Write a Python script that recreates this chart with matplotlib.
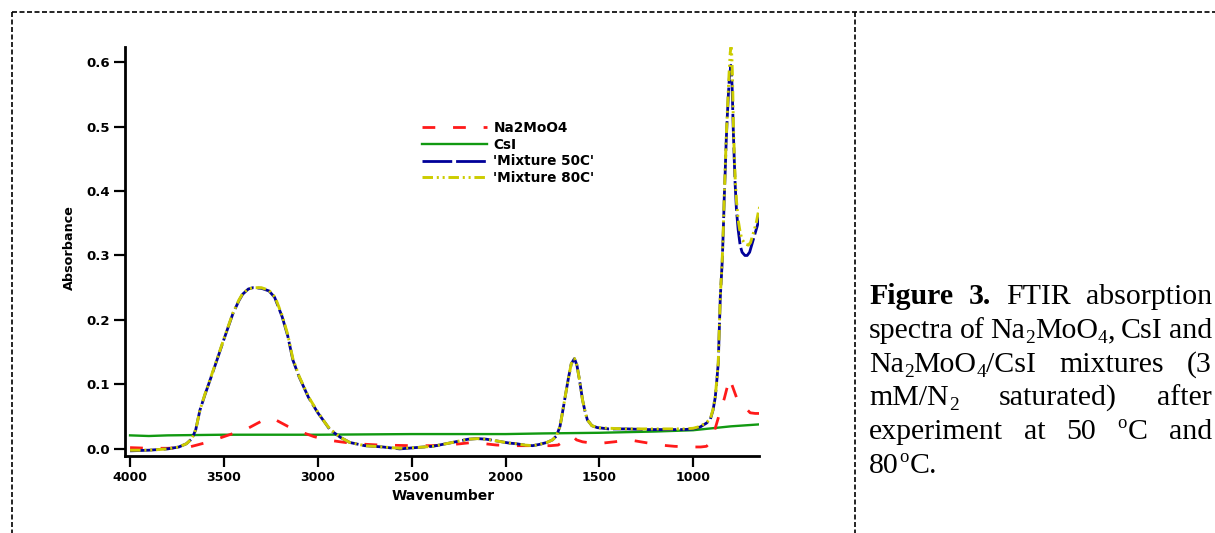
import numpy as np
import matplotlib
matplotlib.use("Agg")
from matplotlib import pyplot as plt
from matplotlib.lines import Line2D

plt.rcParams['font.family'] = 'DejaVu Sans'

# --- data (wavenumber, absorbance) ---
na_wn = [4000, 3900, 3800, 3720, 3697, 3644, 3580, 3521, 3450, 3378, 3320, 3280,
         3255, 3218, 3160, 3096, 3020, 2952, 2880, 2800, 2670, 2495, 2400, 2314,
         2240, 2176, 2110, 2048, 1950, 1873, 1800, 1760, 1720, 1690, 1660, 1640,
         1622, 1590, 1540, 1484, 1420, 1340, 1280, 1176, 1100, 1016, 960, 930,
         904, 885, 865, 850, 835, 820, 809, 795, 770, 750, 720, 697, 670, 650]
na_abs = [0.002, 0.001, 0.001, 0.002, 0.002, 0.006, 0.011, 0.017, 0.024, 0.031, 0.040, 0.046,
          0.048, 0.044, 0.035, 0.027, 0.019, 0.014, 0.011, 0.008, 0.006, 0.005, 0.005, 0.006,
          0.008, 0.010, 0.008, 0.006, 0.005, 0.005, 0.005, 0.005, 0.006, 0.012, 0.018, 0.019,
          0.014, 0.011, 0.009, 0.009, 0.011, 0.014, 0.011, 0.006, 0.004, 0.003, 0.003, 0.004,
          0.011, 0.030, 0.050, 0.065, 0.078, 0.095, 0.110, 0.100, 0.080, 0.071, 0.063, 0.056, 0.055, 0.055]

csi_wn = [4000, 3900, 3800, 3500, 3000, 2500, 2000, 1800, 1500, 1200, 1000, 900, 800, 700, 650]
csi_abs = [0.021, 0.020, 0.021, 0.022, 0.022, 0.023, 0.023, 0.024, 0.025, 0.027, 0.029,
           0.032, 0.035, 0.037, 0.038]

m50_wn = [4000, 3900, 3800, 3740, 3700, 3670, 3650, 3628, 3600, 3570, 3537, 3500,
          3452, 3420, 3400, 3370, 3346, 3300, 3260, 3230, 3218, 3190, 3160, 3133,
          3100, 3050, 3000, 2960, 2936, 2880, 2830, 2750, 2654, 2564, 2480, 2388,
          2300, 2250, 2200, 2150, 2101, 2040, 1980, 1941, 1900, 1856, 1819, 1780,
          1750, 1729, 1710, 1697, 1680, 1665, 1650, 1633, 1620, 1605, 1590, 1575,
          1564, 1540, 1511, 1450, 1350, 1250, 1150, 1050, 1000, 963, 930, 910,
          895, 883, 875, 867, 861, 856, 846, 840, 835, 830, 825, 819,
          813, 808, 800, 796, 793, 787, 782, 777, 770, 761, 750, 740,
          725, 713, 700, 690, 670, 655, 644]
m50_abs = [-0.003, -0.002, 0.000, 0.003, 0.008, 0.016, 0.030, 0.060, 0.085, 0.110, 0.138, 0.170,
           0.210, 0.230, 0.240, 0.248, 0.250, 0.249, 0.245, 0.235, 0.226, 0.205, 0.175, 0.138,
           0.112, 0.080, 0.056, 0.040, 0.030, 0.018, 0.010, 0.005, 0.003, 0.000, 0.002, 0.004,
           0.009, 0.012, 0.015, 0.016, 0.015, 0.012, 0.009, 0.008, 0.006, 0.005, 0.007, 0.010,
           0.014, 0.020, 0.035, 0.056, 0.085, 0.110, 0.132, 0.140, 0.130, 0.105, 0.076, 0.056,
           0.045, 0.036, 0.033, 0.031, 0.031, 0.030, 0.030, 0.030, 0.031, 0.034, 0.040, 0.045,
           0.060, 0.080, 0.105, 0.133, 0.190, 0.236, 0.290, 0.340, 0.390, 0.430, 0.475, 0.515,
           0.550, 0.575, 0.595, 0.580, 0.560, 0.495, 0.450, 0.410, 0.370, 0.340, 0.315, 0.305,
           0.300, 0.300, 0.305, 0.315, 0.335, 0.350, 0.363]

m80_wn = [4000, 3900, 3800, 3740, 3700, 3670, 3650, 3628, 3600, 3570, 3537, 3500,
          3452, 3420, 3400, 3370, 3346, 3300, 3260, 3230, 3218, 3190, 3160, 3133,
          3100, 3050, 3000, 2960, 2936, 2880, 2830, 2750, 2654, 2564, 2480, 2388,
          2300, 2250, 2200, 2150, 2101, 2040, 1980, 1941, 1900, 1856, 1819, 1780,
          1750, 1729, 1710, 1697, 1680, 1665, 1650, 1633, 1620, 1605, 1590, 1575,
          1564, 1540, 1511, 1450, 1350, 1250, 1150, 1050, 1000, 963, 930, 910,
          895, 883, 875, 867, 861, 856, 846, 840, 835, 830, 825, 819,
          813, 808, 803, 799, 795, 791, 787, 782, 777, 770, 761, 750,
          740, 725, 707, 695, 680, 665, 655, 644]
m80_abs = [-0.002, -0.002, 0.000, 0.003, 0.008, 0.016, 0.030, 0.060, 0.086, 0.111, 0.139, 0.171,
           0.211, 0.231, 0.241, 0.248, 0.250, 0.250, 0.246, 0.236, 0.228, 0.207, 0.177, 0.140,
           0.113, 0.081, 0.057, 0.040, 0.031, 0.018, 0.010, 0.005, 0.003, 0.001, 0.002, 0.004,
           0.009, 0.012, 0.015, 0.016, 0.015, 0.012, 0.009, 0.008, 0.006, 0.005, 0.007, 0.010,
           0.014, 0.020, 0.035, 0.056, 0.085, 0.110, 0.132, 0.140, 0.130, 0.105, 0.076, 0.056,
           0.045, 0.036, 0.033, 0.032, 0.031, 0.031, 0.031, 0.031, 0.032, 0.035, 0.041, 0.046,
           0.061, 0.081, 0.106, 0.134, 0.192, 0.238, 0.292, 0.342, 0.392, 0.435, 0.480, 0.520,
           0.560, 0.590, 0.615, 0.623, 0.610, 0.575, 0.510, 0.460, 0.420, 0.385, 0.355, 0.335,
           0.325, 0.318, 0.316, 0.320, 0.335, 0.350, 0.365, 0.378]

x_ticks = [4000, 3500, 3000, 2500, 2000, 1500, 1000]
y_ticks = [0.0, 0.1, 0.2, 0.3, 0.4, 0.5, 0.6]

# --- figure ---
W, H = 1215, 533
fig = plt.figure(figsize=(W / 100, H / 100), dpi=100)

def fx(px):
    return px / W

def fy(py):
    return 1 - py / H

ax = fig.add_axes([fx(125), fy(456), fx(759) - fx(125), fy(47) - fy(456)])

ax.plot(csi_wn, csi_abs, color='#119911', lw=1.7, label='CsI', zorder=2)
ax.plot(na_wn, na_abs, color='#ff1a1a', lw=2.0, dashes=(4.6, 6.4), label='Na2MoO4', zorder=3)
ax.plot(m50_wn, m50_abs, color='#000099', lw=2.0, dashes=(10.7, 1.4), label="'Mixture 50C'", zorder=4)
ax.plot(m80_wn, m80_abs, color='#cccc00', lw=2.1, dashes=(3.6, 1.3, 0.7, 1.3, 0.7, 1.3),
        label="'Mixture 80C'", zorder=5)

ax.set_xlim(4027, 650)
ax.set_ylim(-0.011, 0.6233)
ax.set_xticks(x_ticks)
ax.set_xticklabels([str(t) for t in x_ticks], fontsize=9, fontweight='bold')
ax.set_yticks(y_ticks)
ax.set_yticklabels(['%.1f' % t for t in y_ticks], fontsize=9.5, fontweight='bold')
ax.tick_params(direction='out', length=8, width=1.6, pad=3)
for s in ['top', 'right']:
    ax.spines[s].set_visible(False)
for s in ['left', 'bottom']:
    ax.spines[s].set_linewidth(2.0)

ax.set_xlabel('Wavenumber', fontsize=10, fontweight='heavy')
ax.set_ylabel('Absorbance', fontsize=9.2, fontweight='bold')
ax.xaxis.set_label_coords(0.5016, -0.081)
ax.yaxis.set_label_coords(-0.077, 0.509)

h, l = ax.get_legend_handles_labels()
order = [1, 0, 2, 3]
ax.legend([h[i] for i in order], [l[i] for i in order], loc='upper left',
          bbox_to_anchor=(fx(422), fy(121)), bbox_transform=fig.transFigure,
          frameon=False, prop={'weight': 'bold', 'size': 9.8},
          handlelength=4.8, handletextpad=0.44, labelspacing=0.2, borderpad=0, borderaxespad=0)

# --- dashed table borders ---
bk = dict(color='black', lw=1.2, dashes=(3, 1.5))
fig.add_artist(Line2D([fx(12), 1], [fy(12), fy(12)], transform=fig.transFigure, **bk))
fig.add_artist(Line2D([fx(12), fx(12)], [fy(12), 0], transform=fig.transFigure, **bk))
fig.add_artist(Line2D([fx(855), fx(855)], [fy(12), 0], transform=fig.transFigure, **bk))

# --- caption, justified; each word is a list of (text, kind) pieces ---
serif = 'Liberation Serif'
cap_size = 21.5
# kind: size scale, baseline shift (px), weight, extra space after (px)
kinds = {'n': (1.0, 0, 'normal', 0), 'b': (1.0, 0, 'bold', 0),
         'sub': (0.65, -5, 'normal', 0), 'sup': (0.62, 11, 'normal', 1.5)}
cap_lines = [
    [[('Figure', 'b')], [('3.', 'b')], [('FTIR', 'n')], [('absorption', 'n')]],
    [[('spectra', 'n')], [('of', 'n')], [('Na', 'n'), ('2', 'sub'), ('MoO', 'n'), ('4', 'sub'), (',', 'n')],
     [('CsI', 'n')], [('and', 'n')]],
    [[('Na', 'n'), ('2', 'sub'), ('MoO', 'n'), ('4', 'sub'), ('/CsI', 'n')], [('mixtures', 'n')], [('(3', 'n')]],
    [[('mM/N', 'n'), ('2', 'sub')], [('saturated)', 'n')], [('after', 'n')]],
    [[('experiment', 'n')], [('at', 'n')], [('50', 'n')], [('o', 'sup'), ('C', 'n')], [('and', 'n')]],
    [[('80', 'n'), ('o', 'sup'), ('C.', 'n')]],
]
baselines = [304, 338, 372, 405, 439, 473]
x_left, x_right = 869, 1212

renderer = fig.canvas.get_renderer()
for words, by in zip(cap_lines, baselines):
    placed = []
    for word in words:
        pieces = []
        for txt, kd in word:
            sc, dy, wt, extra = kinds[kd]
            t = fig.text(0, fy(by - dy), txt, family=serif, fontsize=cap_size * sc,
                         fontweight=wt, va='baseline', ha='left')
            pieces.append((t, t.get_window_extent(renderer).width + extra))
        placed.append(pieces)
    widths = [sum(p[1] for p in pieces) for pieces in placed]
    gap = (x_right - x_left - sum(widths)) / (len(placed) - 1) if len(placed) > 1 else 0
    x = x_left
    for pieces, wd in zip(placed, widths):
        px = x
        for t, pw in pieces:
            t.set_x(fx(px))
            px += pw
        x += wd + gap

fig.savefig('out.png', dpi=100)
